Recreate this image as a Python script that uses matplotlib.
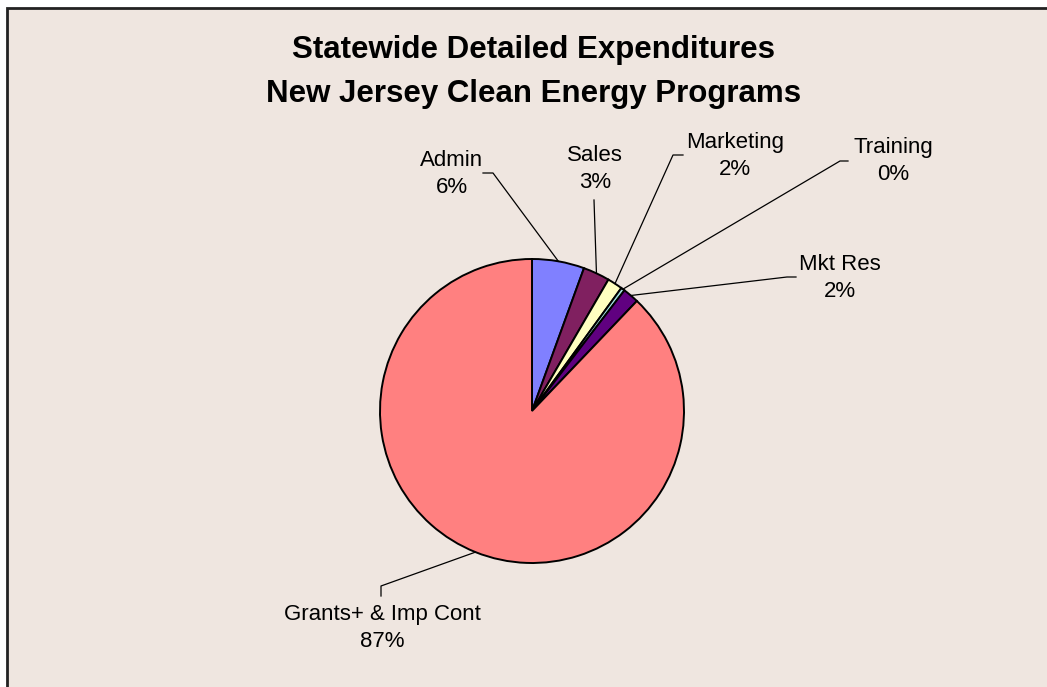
import numpy as np
import matplotlib.pyplot as plt
from matplotlib.patches import Rectangle

plt.rcParams['font.family'] = ['Liberation Sans', 'DejaVu Sans']

categories = ['Admin', 'Sales', 'Marketing', 'Training', 'Mkt Res', 'Grants+ & Imp Cont']
values = [5.5, 2.8, 1.6, 0.4, 1.7, 87.0]
pct_labels = ['6%', '3%', '2%', '0%', '2%', '87%']
colors = ['#8080FF', '#802060', '#FFFFC0', '#A0E0E0', '#600080', '#FF8080']

W, H = 1047, 687
BG = '#EFE6E0'

# label layout in pixel coords (x centre, y centre of the text block)
label_pos = [(452, 174), (595, 169), (735, 156), (893, 161), (840, 278), (382, 628)]
# where the leader line leaves the label: (stub start, stub end)
stubs = [((483, 173), (493, 173)),
         ((594, 200), (594, 200)),
         ((683, 155), (673, 155)),
         ((848, 161), (840, 161)),
         ((796, 277), (787, 277)),
         ((381, 596), (381, 586))]

cx, cy, r = 532, 411, 152


def py(y):
    # pixel row -> data y
    return H - y


fig = plt.figure(figsize=(W / 100, H / 100), dpi=100, facecolor='white')
ax = fig.add_axes([0, 0, 1, 1])

ax.add_patch(Rectangle((7, -10), W + 20, py(8) + 10, facecolor=BG,
                       edgecolor='#222222', linewidth=2, zorder=0))

wedges, _ = ax.pie(values, colors=colors, startangle=90, counterclock=False,
                   center=(cx, py(cy)), radius=r, frame=True,
                   wedgeprops=dict(edgecolor='black', linewidth=1.4))
ax.set_xlim(0, W)
ax.set_ylim(0, H)
ax.set_aspect('equal')
ax.axis('off')

ax.text(534, py(72), 'Statewide Detailed Expenditures\nNew Jersey Clean Energy Programs',
        ha='center', va='center', fontsize=22.5, fontweight='bold', linespacing=1.58)

for w, name, pct, (lx, ly), (s0, s1) in zip(wedges, categories, pct_labels, label_pos, stubs):
    ang = np.deg2rad((w.theta1 + w.theta2) / 2)
    ex = cx + r * np.cos(ang)
    ey = py(cy) + r * np.sin(ang)
    ax.text(lx, py(ly), name + '\n' + pct, ha='center', va='center',
            fontsize=16, linespacing=1.35)
    ax.plot([s0[0], s1[0], ex], [py(s0[1]), py(s1[1]), ey], color='black',
            linewidth=0.9, zorder=3)

fig.savefig('out.png', dpi=100, facecolor='white')
